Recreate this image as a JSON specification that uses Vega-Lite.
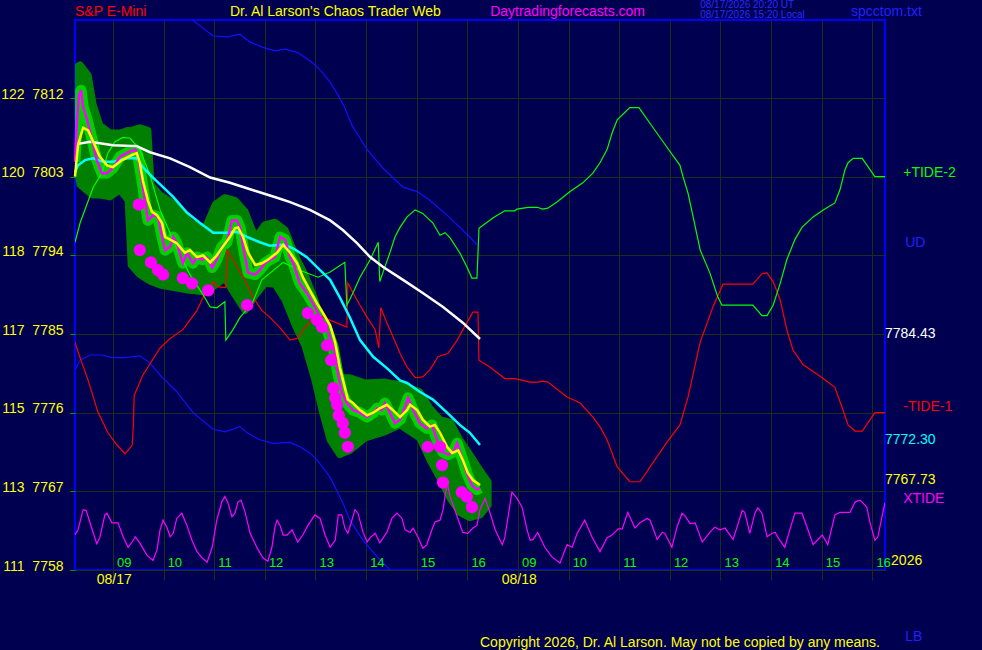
{
  "$schema": "https://vega.github.io/schema/vega-lite/v6.json",
  "width": 810,
  "height": 550,
  "autosize": {"type": "none"},
  "padding": {"left": 75, "top": 20, "right": 97, "bottom": 80},
  "background": "#000050",
  "config": {
    "view": {"stroke": "#0000ff", "strokeWidth": 2},
    "font": "Liberation Sans",
    "axis": {"gridColor": "#183018", "gridOpacity": 1, "domain": false}
  },
  "datasets": {
    "upper": [
      {"t":2.33,"v":7820.9},{"t":2.57,"v":7819.8},{"t":2.73,"v":7819.1},{"t":3.02,"v":7819.0},{"t":3.26,"v":7819.3},{"t":3.46,"v":7818.4},{"t":3.71,"v":7817.8},{"t":3.95,"v":7817.4},{"t":4.15,"v":7817.6},{"t":4.40,"v":7817.2},{"t":4.70,"v":7816.0},{"t":4.88,"v":7815.0},{"t":5.04,"v":7813.8},{"t":5.20,"v":7812.3},{"t":5.33,"v":7810.9},{"t":5.47,"v":7808.9},{"t":5.63,"v":7807.4},{"t":5.77,"v":7806.1},{"t":6.08,"v":7804.0},{"t":6.48,"v":7801.8},{"t":6.76,"v":7801.3},{"t":7.01,"v":7800.3},{"t":7.35,"v":7798.6},{"t":7.60,"v":7797.2},{"t":7.80,"v":7796.1},{"t":7.94,"v":7795.2}
    ],
    "lower": [
      {"t":0,"v":7780.9},{"t":0.10,"v":7782.0},{"t":0.30,"v":7782.6},{"t":0.53,"v":7782.6},{"t":0.73,"v":7782.3},{"t":0.99,"v":7782.3},{"t":1.28,"v":7782.5},{"t":1.48,"v":7781.7},{"t":1.68,"v":7780.3},{"t":2.01,"v":7778.4},{"t":2.33,"v":7776.0},{"t":2.73,"v":7774.1},{"t":2.96,"v":7773.8},{"t":3.26,"v":7774.4},{"t":3.40,"v":7773.7},{"t":3.65,"v":7772.9},{"t":3.91,"v":7772.5},{"t":4.25,"v":7772.6},{"t":4.44,"v":7772.1},{"t":4.64,"v":7771.4},{"t":4.78,"v":7770.6},{"t":5.04,"v":7768.6},{"t":5.29,"v":7765.7},{"t":5.43,"v":7763.7},{"t":5.69,"v":7761.4},{"t":5.97,"v":7759.5},{"t":6.22,"v":7758.0}
    ],
    "average": [
      {"t":0,"v":7806.7},{"t":0.30,"v":7807.0},{"t":0.75,"v":7806.6},{"t":1.22,"v":7806.5},{"t":1.48,"v":7805.8},{"t":1.88,"v":7805.1},{"t":2.27,"v":7804.1},{"t":2.67,"v":7802.9},{"t":3.06,"v":7802.3},{"t":3.60,"v":7801.3},{"t":3.99,"v":7800.6},{"t":4.25,"v":7800.1},{"t":4.64,"v":7799.2},{"t":5.04,"v":7798.0},{"t":5.29,"v":7796.9},{"t":5.57,"v":7795.4},{"t":5.83,"v":7793.8},{"t":6.08,"v":7792.7},{"t":6.48,"v":7791.2},{"t":6.87,"v":7789.7},{"t":7.27,"v":7788.1},{"t":7.66,"v":7786.3},{"t":8.00,"v":7784.43}
    ],
    "trend": [
      {"t":0,"v":7803.5},{"t":0.06,"v":7804.3},{"t":0.20,"v":7804.9},{"t":0.36,"v":7805.1},{"t":0.55,"v":7804.7},{"t":0.75,"v":7804.7},{"t":1.03,"v":7805.1},{"t":1.22,"v":7805.1},{"t":1.34,"v":7804.1},{"t":1.54,"v":7802.9},{"t":1.74,"v":7801.8},{"t":1.94,"v":7800.7},{"t":2.21,"v":7798.9},{"t":2.47,"v":7797.7},{"t":2.73,"v":7796.6},{"t":3.00,"v":7796.6},{"t":3.20,"v":7796.7},{"t":3.40,"v":7796.1},{"t":3.65,"v":7795.5},{"t":3.85,"v":7795.1},{"t":4.11,"v":7795.2},{"t":4.31,"v":7794.8},{"t":4.58,"v":7793.8},{"t":4.84,"v":7792.3},{"t":5.04,"v":7791.2},{"t":5.23,"v":7789.2},{"t":5.43,"v":7786.9},{"t":5.63,"v":7784.3},{"t":5.89,"v":7782.4},{"t":6.16,"v":7781.1},{"t":6.42,"v":7779.7},{"t":6.56,"v":7779.4},{"t":6.81,"v":7778.4},{"t":7.07,"v":7777.5},{"t":7.35,"v":7776.0},{"t":7.60,"v":7774.6},{"t":7.80,"v":7773.7},{"t":8.00,"v":7772.30}
    ],
    "smooth": [
      {"t":0,"v":7803.0},{"t":0.06,"v":7806.6},{"t":0.16,"v":7808.6},{"t":0.26,"v":7808.3},{"t":0.36,"v":7807.0},{"t":0.49,"v":7805.3},{"t":0.63,"v":7804.3},{"t":0.75,"v":7804.1},{"t":0.93,"v":7804.9},{"t":1.13,"v":7805.5},{"t":1.22,"v":7805.7},{"t":1.28,"v":7804.6},{"t":1.34,"v":7802.6},{"t":1.44,"v":7800.3},{"t":1.52,"v":7799.0},{"t":1.62,"v":7798.6},{"t":1.72,"v":7797.7},{"t":1.78,"v":7796.1},{"t":1.88,"v":7795.8},{"t":2.01,"v":7795.4},{"t":2.17,"v":7794.3},{"t":2.27,"v":7794.6},{"t":2.41,"v":7793.8},{"t":2.53,"v":7794.0},{"t":2.67,"v":7793.2},{"t":2.80,"v":7794.0},{"t":2.92,"v":7795.0},{"t":3.06,"v":7796.1},{"t":3.16,"v":7797.1},{"t":3.22,"v":7797.2},{"t":3.32,"v":7796.1},{"t":3.42,"v":7794.3},{"t":3.56,"v":7792.9},{"t":3.69,"v":7793.1},{"t":3.81,"v":7793.5},{"t":3.99,"v":7794.3},{"t":4.11,"v":7795.2},{"t":4.25,"v":7794.3},{"t":4.39,"v":7793.1},{"t":4.50,"v":7791.5},{"t":4.64,"v":7790.0},{"t":4.78,"v":7788.5},{"t":4.90,"v":7787.4},{"t":5.04,"v":7786.0},{"t":5.14,"v":7784.0},{"t":5.23,"v":7781.2},{"t":5.33,"v":7778.9},{"t":5.39,"v":7777.5},{"t":5.49,"v":7777.1},{"t":5.63,"v":7776.3},{"t":5.77,"v":7775.7},{"t":5.89,"v":7776.0},{"t":6.02,"v":7776.5},{"t":6.16,"v":7776.9},{"t":6.28,"v":7776.3},{"t":6.42,"v":7775.5},{"t":6.56,"v":7776.3},{"t":6.62,"v":7776.9},{"t":6.76,"v":7776.3},{"t":6.87,"v":7775.2},{"t":7.01,"v":7774.4},{"t":7.11,"v":7774.6},{"t":7.21,"v":7773.7},{"t":7.35,"v":7772.1},{"t":7.45,"v":7771.4},{"t":7.57,"v":7771.7},{"t":7.66,"v":7770.6},{"t":7.76,"v":7769.1},{"t":7.86,"v":7768.3},{"t":8.00,"v":7767.73}
    ],
    "price": [
      {"t":0,"v":7804.7},{"t":0.04,"v":7809.5},{"t":0.08,"v":7812.3},{"t":0.12,"v":7812.9},{"t":0.16,"v":7811.0},{"t":0.24,"v":7809.5},{"t":0.34,"v":7807.2},{"t":0.43,"v":7804.9},{"t":0.53,"v":7803.4},{"t":0.63,"v":7803.4},{"t":0.75,"v":7804.0},{"t":0.89,"v":7805.3},{"t":1.05,"v":7805.8},{"t":1.19,"v":7806.1},{"t":1.24,"v":7805.5},{"t":1.32,"v":7802.6},{"t":1.38,"v":7800.3},{"t":1.44,"v":7798.0},{"t":1.54,"v":7798.6},{"t":1.64,"v":7798.4},{"t":1.72,"v":7796.1},{"t":1.78,"v":7794.6},{"t":1.88,"v":7795.0},{"t":1.94,"v":7796.1},{"t":2.01,"v":7795.4},{"t":2.13,"v":7793.1},{"t":2.21,"v":7794.3},{"t":2.33,"v":7793.1},{"t":2.41,"v":7793.8},{"t":2.51,"v":7793.5},{"t":2.61,"v":7793.8},{"t":2.71,"v":7792.6},{"t":2.80,"v":7793.5},{"t":2.90,"v":7795.0},{"t":3.00,"v":7795.5},{"t":3.10,"v":7798.0},{"t":3.20,"v":7798.0},{"t":3.26,"v":7797.2},{"t":3.32,"v":7795.0},{"t":3.42,"v":7792.0},{"t":3.56,"v":7791.8},{"t":3.65,"v":7792.3},{"t":3.75,"v":7793.1},{"t":3.85,"v":7793.5},{"t":3.95,"v":7793.8},{"t":4.05,"v":7796.1},{"t":4.15,"v":7795.8},{"t":4.25,"v":7793.8},{"t":4.31,"v":7793.1},{"t":4.44,"v":7790.8},{"t":4.58,"v":7789.7},{"t":4.70,"v":7788.5},{"t":4.84,"v":7787.0},{"t":4.98,"v":7785.5},{"t":5.10,"v":7783.5},{"t":5.18,"v":7780.9},{"t":5.27,"v":7778.3},{"t":5.37,"v":7777.1},{"t":5.49,"v":7776.3},{"t":5.63,"v":7776.0},{"t":5.77,"v":7775.5},{"t":5.89,"v":7776.0},{"t":5.97,"v":7776.5},{"t":6.06,"v":7776.3},{"t":6.12,"v":7777.1},{"t":6.22,"v":7776.0},{"t":6.32,"v":7774.8},{"t":6.42,"v":7775.2},{"t":6.52,"v":7776.7},{"t":6.58,"v":7777.7},{"t":6.68,"v":7776.3},{"t":6.81,"v":7774.8},{"t":6.95,"v":7774.2},{"t":7.05,"v":7774.6},{"t":7.15,"v":7772.9},{"t":7.27,"v":7771.5},{"t":7.37,"v":7771.2},{"t":7.47,"v":7771.5},{"t":7.55,"v":7772.5},{"t":7.64,"v":7770.9},{"t":7.74,"v":7769.1},{"t":7.84,"v":7767.7},{"t":7.94,"v":7767.2},{"t":8.00,"v":7767.4}
    ],
    "glow": [
      {"t":0,"top":7815.4,"bot":7804.9},{"t":0.10,"top":7815.8,"bot":7802.1},{"t":0.26,"top":7814.6,"bot":7801.3},{"t":0.36,"top":7811.2,"bot":7800.9},{"t":0.49,"top":7808.9,"bot":7800.9},{"t":0.69,"top":7808.0,"bot":7800.7},{"t":0.89,"top":7808.0,"bot":7801.5},{"t":1.05,"top":7808.3,"bot":7800.3},{"t":1.11,"top":7808.3,"bot":7792.9},{"t":1.28,"top":7808.6,"bot":7791.8},{"t":1.44,"top":7808.3,"bot":7791.2},{"t":1.50,"top":7802.1,"bot":7791.0},{"t":1.68,"top":7800.9,"bot":7790.6},{"t":1.98,"top":7799.8,"bot":7790.3},{"t":2.27,"top":7797.8,"bot":7790.0},{"t":2.57,"top":7797.1,"bot":7789.8},{"t":2.77,"top":7799.8,"bot":7790.6},{"t":2.96,"top":7800.6,"bot":7791.4},{"t":3.16,"top":7800.3,"bot":7789.5},{"t":3.36,"top":7799.0,"bot":7787.7},{"t":3.56,"top":7796.0,"bot":7789.4},{"t":3.75,"top":7797.5,"bot":7790.8},{"t":3.95,"top":7797.8,"bot":7790.7},{"t":4.15,"top":7796.9,"bot":7788.9},{"t":4.35,"top":7794.0,"bot":7786.0},{"t":4.54,"top":7791.8,"bot":7783.7},{"t":4.74,"top":7788.9,"bot":7779.7},{"t":4.88,"top":7784.9,"bot":7776.3},{"t":5.04,"top":7780.9,"bot":7772.9},{"t":5.23,"top":7780.0,"bot":7771.2},{"t":5.43,"top":7780.0,"bot":7771.7},{"t":5.73,"top":7779.4,"bot":7773.1},{"t":6.12,"top":7779.5,"bot":7773.8},{"t":6.42,"top":7779.2,"bot":7774.6},{"t":6.81,"top":7778.4,"bot":7773.1},{"t":7.01,"top":7776.5,"bot":7770.6},{"t":7.21,"top":7775.2,"bot":7768.5},{"t":7.41,"top":7774.9,"bot":7766.2},{"t":7.60,"top":7772.9,"bot":7764.6},{"t":7.80,"top":7771.2,"bot":7764.0},{"t":8.00,"top":7769.4,"bot":7764.3},{"t":8.16,"top":7768.1,"bot":7765.4}
    ],
    "lows": [
      {"t":1.26,"v":7799.8},{"t":1.28,"v":7794.6},{"t":1.50,"v":7793.2},{"t":1.64,"v":7792.3},{"t":1.74,"v":7791.8},{"t":2.13,"v":7791.4},{"t":2.31,"v":7790.8},{"t":2.63,"v":7790.0},{"t":3.40,"v":7788.3},{"t":4.60,"v":7787.4},{"t":4.78,"v":7786.6},{"t":4.88,"v":7785.8},{"t":4.98,"v":7783.7},{"t":5.06,"v":7782.0},{"t":5.10,"v":7778.8},{"t":5.14,"v":7777.7},{"t":5.18,"v":7776.9},{"t":5.21,"v":7775.7},{"t":5.29,"v":7774.8},{"t":5.33,"v":7773.7},{"t":5.39,"v":7772.1},{"t":6.97,"v":7772.1},{"t":7.21,"v":7772.1},{"t":7.25,"v":7770.0},{"t":7.27,"v":7768.0},{"t":7.64,"v":7766.9},{"t":7.74,"v":7766.4},{"t":7.84,"v":7765.2}
    ],
    "tide1": [
      {"t":0,"v":7784.0},{"t":0.10,"v":7782.3},{"t":0.26,"v":7779.7},{"t":0.45,"v":7776.1},{"t":0.65,"v":7773.7},{"t":0.83,"v":7772.3},{"t":0.99,"v":7771.3},{"t":1.13,"v":7772.3},{"t":1.15,"v":7774.4},{"t":1.17,"v":7778.0},{"t":1.24,"v":7778.9},{"t":1.34,"v":7780.3},{"t":1.44,"v":7781.2},{"t":1.68,"v":7783.4},{"t":1.88,"v":7784.5},{"t":2.13,"v":7785.5},{"t":2.27,"v":7786.6},{"t":2.41,"v":7787.7},{"t":2.57,"v":7789.7},{"t":2.73,"v":7791.0},{"t":2.82,"v":7790.4},{"t":2.98,"v":7790.3},{"t":3.00,"v":7794.6},{"t":3.12,"v":7793.5},{"t":3.32,"v":7791.5},{"t":3.52,"v":7789.2},{"t":3.69,"v":7787.7},{"t":3.85,"v":7786.9},{"t":4.05,"v":7785.7},{"t":4.25,"v":7784.3},{"t":4.39,"v":7784.5},{"t":4.54,"v":7785.7},{"t":4.64,"v":7786.4},{"t":4.78,"v":7787.2},{"t":5.37,"v":7785.8},{"t":5.39,"v":7790.8},{"t":5.57,"v":7788.9},{"t":5.77,"v":7786.9},{"t":5.93,"v":7785.5},{"t":6.00,"v":7783.4},{"t":6.04,"v":7788.0},{"t":6.16,"v":7786.3},{"t":6.28,"v":7784.7},{"t":6.42,"v":7782.8},{"t":6.56,"v":7781.2},{"t":6.72,"v":7780.0},{"t":6.87,"v":7780.1},{"t":7.01,"v":7780.9},{"t":7.17,"v":7782.4},{"t":7.37,"v":7782.8},{"t":7.55,"v":7784.3},{"t":7.74,"v":7786.3},{"t":7.86,"v":7787.5},{"t":7.96,"v":7787.5},{"t":7.98,"v":7782.0},{"t":8.20,"v":7781.2},{"t":8.49,"v":7779.9},{"t":8.69,"v":7779.9},{"t":8.99,"v":7779.5},{"t":9.14,"v":7779.5},{"t":9.24,"v":7779.6},{"t":9.34,"v":7779.5},{"t":9.72,"v":7777.8},{"t":9.98,"v":7777.1},{"t":10.23,"v":7775.5},{"t":10.37,"v":7774.4},{"t":10.51,"v":7772.9},{"t":10.71,"v":7769.8},{"t":10.96,"v":7768.1},{"t":11.16,"v":7768.1},{"t":11.36,"v":7769.8},{"t":11.69,"v":7772.6},{"t":11.95,"v":7774.6},{"t":12.11,"v":7777.8},{"t":12.35,"v":7784.1},{"t":12.49,"v":7786.3},{"t":12.60,"v":7788.1},{"t":12.80,"v":7790.7},{"t":13.39,"v":7790.7},{"t":13.57,"v":7791.9},{"t":13.67,"v":7792.0},{"t":13.79,"v":7791.0},{"t":13.93,"v":7788.9},{"t":14.06,"v":7785.5},{"t":14.18,"v":7783.2},{"t":14.38,"v":7781.5},{"t":14.58,"v":7780.7},{"t":14.78,"v":7779.9},{"t":15.01,"v":7778.9},{"t":15.17,"v":7776.3},{"t":15.27,"v":7774.6},{"t":15.41,"v":7773.9},{"t":15.55,"v":7773.9},{"t":15.80,"v":7776.0},{"t":16.00,"v":7776.0}
    ],
    "tide2": [
      {"t":0,"v":7795.5},{"t":0.10,"v":7797.7},{"t":0.24,"v":7799.9},{"t":0.36,"v":7801.8},{"t":0.53,"v":7803.4},{"t":0.65,"v":7805.7},{"t":0.79,"v":7807.0},{"t":0.95,"v":7807.5},{"t":1.09,"v":7807.4},{"t":1.28,"v":7806.1},{"t":1.48,"v":7803.2},{"t":1.68,"v":7799.2},{"t":1.98,"v":7795.2},{"t":2.27,"v":7791.8},{"t":2.53,"v":7789.5},{"t":2.67,"v":7788.1},{"t":2.80,"v":7788.0},{"t":2.96,"v":7788.7},{"t":2.98,"v":7784.3},{"t":3.12,"v":7785.5},{"t":3.26,"v":7786.9},{"t":3.50,"v":7788.5},{"t":3.69,"v":7791.2},{"t":4.11,"v":7793.2},{"t":4.44,"v":7792.3},{"t":4.80,"v":7791.5},{"t":5.04,"v":7792.1},{"t":5.33,"v":7793.2},{"t":5.37,"v":7788.3},{"t":5.49,"v":7789.7},{"t":5.63,"v":7791.5},{"t":5.83,"v":7793.5},{"t":5.99,"v":7795.5},{"t":6.02,"v":7791.0},{"t":6.08,"v":7792.0},{"t":6.22,"v":7794.3},{"t":6.32,"v":7796.1},{"t":6.42,"v":7797.2},{"t":6.56,"v":7798.4},{"t":6.72,"v":7799.2},{"t":6.87,"v":7798.8},{"t":7.07,"v":7797.7},{"t":7.21,"v":7796.3},{"t":7.31,"v":7796.6},{"t":7.41,"v":7796.0},{"t":7.60,"v":7794.3},{"t":7.74,"v":7792.7},{"t":7.84,"v":7791.4},{"t":7.94,"v":7791.4},{"t":7.98,"v":7797.1},{"t":8.00,"v":7797.2},{"t":8.26,"v":7798.3},{"t":8.49,"v":7799.1},{"t":8.69,"v":7799.1},{"t":8.73,"v":7799.3},{"t":8.95,"v":7799.5},{"t":9.13,"v":7799.5},{"t":9.24,"v":7799.3},{"t":9.34,"v":7799.4},{"t":9.52,"v":7800.1},{"t":9.78,"v":7801.3},{"t":10.03,"v":7802.3},{"t":10.23,"v":7803.4},{"t":10.37,"v":7804.6},{"t":10.51,"v":7806.1},{"t":10.61,"v":7808.0},{"t":10.71,"v":7809.5},{"t":10.96,"v":7810.9},{"t":11.14,"v":7810.9},{"t":11.42,"v":7808.6},{"t":11.69,"v":7806.4},{"t":11.95,"v":7804.3},{"t":12.01,"v":7803.0},{"t":12.11,"v":7801.1},{"t":12.21,"v":7798.4},{"t":12.35,"v":7794.6},{"t":12.54,"v":7792.0},{"t":12.70,"v":7789.2},{"t":12.78,"v":7788.3},{"t":13.39,"v":7788.3},{"t":13.57,"v":7787.1},{"t":13.67,"v":7787.1},{"t":13.79,"v":7788.3},{"t":13.93,"v":7790.8},{"t":14.06,"v":7793.5},{"t":14.22,"v":7795.8},{"t":14.36,"v":7797.2},{"t":14.58,"v":7798.4},{"t":14.78,"v":7799.2},{"t":15.01,"v":7800.0},{"t":15.11,"v":7801.5},{"t":15.21,"v":7803.8},{"t":15.27,"v":7804.6},{"t":15.37,"v":7805.1},{"t":15.55,"v":7805.1},{"t":15.80,"v":7803.0},{"t":16.00,"v":7803.0}
    ],
    "xtide": [
      {"t":0,"v":7762.0},{"t":0.06,"v":7762.6},{"t":0.16,"v":7764.9},{"t":0.22,"v":7764.8},{"t":0.34,"v":7762.6},{"t":0.43,"v":7761.0},{"t":0.49,"v":7761.7},{"t":0.59,"v":7764.3},{"t":0.63,"v":7764.5},{"t":0.73,"v":7763.4},{"t":0.85,"v":7763.4},{"t":0.95,"v":7761.8},{"t":1.05,"v":7760.6},{"t":1.15,"v":7761.4},{"t":1.19,"v":7761.8},{"t":1.28,"v":7761.1},{"t":1.42,"v":7759.7},{"t":1.54,"v":7759.1},{"t":1.62,"v":7760.3},{"t":1.68,"v":7762.6},{"t":1.74,"v":7763.7},{"t":1.82,"v":7762.8},{"t":1.88,"v":7761.8},{"t":1.94,"v":7762.2},{"t":2.01,"v":7763.9},{"t":2.11,"v":7764.5},{"t":2.21,"v":7763.1},{"t":2.31,"v":7761.4},{"t":2.41,"v":7760.1},{"t":2.51,"v":7759.4},{"t":2.61,"v":7758.9},{"t":2.71,"v":7760.6},{"t":2.80,"v":7763.7},{"t":2.90,"v":7765.8},{"t":2.96,"v":7766.4},{"t":3.02,"v":7765.7},{"t":3.10,"v":7764.1},{"t":3.16,"v":7764.5},{"t":3.22,"v":7765.8},{"t":3.28,"v":7766.0},{"t":3.36,"v":7764.6},{"t":3.46,"v":7762.2},{"t":3.60,"v":7760.5},{"t":3.71,"v":7759.4},{"t":3.81,"v":7759.0},{"t":3.89,"v":7760.6},{"t":3.95,"v":7762.9},{"t":3.99,"v":7763.7},{"t":4.05,"v":7763.1},{"t":4.11,"v":7762.0},{"t":4.19,"v":7762.0},{"t":4.29,"v":7762.6},{"t":4.35,"v":7761.8},{"t":4.40,"v":7761.2},{"t":4.50,"v":7762.0},{"t":4.60,"v":7763.1},{"t":4.74,"v":7764.3},{"t":4.84,"v":7763.9},{"t":4.94,"v":7762.0},{"t":5.04,"v":7760.6},{"t":5.14,"v":7761.4},{"t":5.20,"v":7764.3},{"t":5.27,"v":7764.3},{"t":5.33,"v":7762.8},{"t":5.39,"v":7762.2},{"t":5.47,"v":7763.7},{"t":5.53,"v":7764.9},{"t":5.59,"v":7764.5},{"t":5.69,"v":7762.3},{"t":5.77,"v":7761.2},{"t":5.83,"v":7761.7},{"t":5.93,"v":7762.2},{"t":6.02,"v":7761.1},{"t":6.16,"v":7762.3},{"t":6.26,"v":7763.9},{"t":6.36,"v":7764.5},{"t":6.46,"v":7763.9},{"t":6.52,"v":7762.6},{"t":6.62,"v":7762.3},{"t":6.68,"v":7762.8},{"t":6.78,"v":7761.7},{"t":6.87,"v":7760.5},{"t":6.95,"v":7760.9},{"t":7.05,"v":7762.6},{"t":7.11,"v":7763.5},{"t":7.21,"v":7763.7},{"t":7.27,"v":7764.9},{"t":7.35,"v":7768.0},{"t":7.41,"v":7766.4},{"t":7.55,"v":7764.1},{"t":7.66,"v":7762.3},{"t":7.76,"v":7762.2},{"t":7.86,"v":7762.8},{"t":7.94,"v":7763.1},{"t":8.00,"v":7764.9},{"t":8.10,"v":7766.2},{"t":8.20,"v":7764.5},{"t":8.30,"v":7762.6},{"t":8.44,"v":7760.9},{"t":8.49,"v":7761.7},{"t":8.63,"v":7766.9},{"t":8.73,"v":7766.2},{"t":8.83,"v":7765.2},{"t":8.93,"v":7762.6},{"t":8.99,"v":7761.4},{"t":9.05,"v":7761.5},{"t":9.14,"v":7762.3},{"t":9.28,"v":7760.6},{"t":9.42,"v":7759.5},{"t":9.58,"v":7758.8},{"t":9.72,"v":7760.9},{"t":9.82,"v":7760.6},{"t":9.92,"v":7762.2},{"t":10.07,"v":7763.7},{"t":10.21,"v":7761.8},{"t":10.37,"v":7760.1},{"t":10.51,"v":7761.7},{"t":10.61,"v":7762.0},{"t":10.73,"v":7762.7},{"t":10.81,"v":7762.7},{"t":10.92,"v":7764.6},{"t":11.06,"v":7762.8},{"t":11.16,"v":7763.4},{"t":11.30,"v":7763.9},{"t":11.36,"v":7763.7},{"t":11.50,"v":7761.5},{"t":11.60,"v":7762.3},{"t":11.65,"v":7762.2},{"t":11.79,"v":7760.6},{"t":11.89,"v":7762.9},{"t":11.99,"v":7764.5},{"t":12.05,"v":7764.2},{"t":12.15,"v":7763.3},{"t":12.25,"v":7763.4},{"t":12.39,"v":7761.2},{"t":12.54,"v":7762.3},{"t":12.64,"v":7762.9},{"t":12.74,"v":7762.6},{"t":12.84,"v":7762.8},{"t":12.90,"v":7762.3},{"t":13.00,"v":7761.5},{"t":13.18,"v":7764.8},{"t":13.23,"v":7764.6},{"t":13.33,"v":7762.2},{"t":13.43,"v":7764.5},{"t":13.49,"v":7765.1},{"t":13.57,"v":7764.5},{"t":13.67,"v":7761.8},{"t":13.77,"v":7762.2},{"t":13.83,"v":7762.3},{"t":13.89,"v":7761.7},{"t":14.02,"v":7760.6},{"t":14.12,"v":7762.6},{"t":14.22,"v":7764.5},{"t":14.36,"v":7764.5},{"t":14.46,"v":7762.9},{"t":14.58,"v":7760.9},{"t":14.76,"v":7762.0},{"t":14.87,"v":7760.9},{"t":15.01,"v":7764.3},{"t":15.11,"v":7764.6},{"t":15.31,"v":7764.6},{"t":15.41,"v":7765.8},{"t":15.51,"v":7766.0},{"t":15.64,"v":7765.2},{"t":15.70,"v":7763.5},{"t":15.80,"v":7761.4},{"t":15.86,"v":7761.8},{"t":15.94,"v":7764.1},{"t":16.00,"v":7765.7}
    ],
    "clock": [
      {"t":0.83,"v":7758.75,"label":"09"},{"t":1.83,"v":7758.75,"label":"10"},{"t":2.83,"v":7758.75,"label":"11"},{"t":3.83,"v":7758.75,"label":"12"},{"t":4.83,"v":7758.75,"label":"13"},{"t":5.83,"v":7758.75,"label":"14"},{"t":6.83,"v":7758.75,"label":"15"},{"t":7.83,"v":7758.75,"label":"16"},
      {"t":8.83,"v":7758.75,"label":"09"},{"t":9.83,"v":7758.75,"label":"10"},{"t":10.83,"v":7758.75,"label":"11"},{"t":11.83,"v":7758.75,"label":"12"},{"t":12.83,"v":7758.75,"label":"13"},{"t":13.83,"v":7758.75,"label":"14"},{"t":14.83,"v":7758.75,"label":"15"},{"t":15.83,"v":7758.75,"label":"16"}
    ],
    "notes": [
      {"label":"S&P E-Mini","t":0,"v":7821.85,"kind":"instrument"},
      {"label":"Dr. Al Larson's Chaos Trader Web","t":3.06,"v":7821.85,"kind":"author"},
      {"label":"Daytradingforecasts.com","t":8.2,"v":7821.85,"kind":"site"},
      {"label":"spcctom.txt","t":15.33,"v":7821.85,"kind":"file"},
      {"label":"+TIDE-2","t":16.36,"v":7803.4,"kind":"tide2"},
      {"label":"UD","t":16.4,"v":7795.4,"kind":"band"},
      {"label":"7784.43","t":16.0,"v":7785.0,"kind":"average"},
      {"label":"-TIDE-1","t":16.36,"v":7776.7,"kind":"tide1"},
      {"label":"7772.30","t":16.0,"v":7772.9,"kind":"trend"},
      {"label":"7767.73","t":16.0,"v":7768.3,"kind":"smooth"},
      {"label":"XTIDE","t":16.36,"v":7766.1,"kind":"xtide"},
      {"label":"2026","t":16.12,"v":7759.0,"kind":"year"},
      {"label":"LB","t":16.4,"v":7750.3,"kind":"band"},
      {"label":"08/17","t":0.43,"v":7756.9,"kind":"date"},
      {"label":"08/18","t":8.43,"v":7756.9,"kind":"date"},
      {"label":"Copyright 2026, Dr. Al Larson. May not be copied by any means.","t":8.0,"v":7749.6,"kind":"copyright"}
    ],
    "stamps": [
      {"label":"08/17/2026 20:20 UT","t":12.35,"v":7822.6},
      {"label":"08/17/2026 15:20 Local","t":12.35,"v":7821.45}
    ]
  },
  "encoding": {
    "x": {
      "field": "t", "type": "quantitative",
      "scale": {"domain": [0, 16], "nice": false, "zero": false},
      "axis": {
        "title": null, "labels": false, "grid": true, "tickSize": 10, "tickColor": "#183018",
        "values": [0.75,1.75,2.75,3.75,4.75,5.75,6.75,7.75,8.75,9.75,10.75,11.75,12.75,13.75,14.75,15.75]
      }
    },
    "y": {
      "field": "v", "type": "quantitative",
      "scale": {"domain": [7758, 7820.93], "nice": false, "zero": false},
      "axis": {
        "title": null, "grid": true, "tickSize": 5, "tickColor": "#00a000",
        "values": [7758, 7767, 7776, 7785, 7794, 7803, 7812],
        "labelExpr": "round(111 + (datum.value - 7758) * 11 / 54) + '\u00a0\u00a0' + datum.value",
        "labelColor": "#ffff00", "labelFontSize": 14, "labelPadding": 7, "labelOffset": -4
      }
    }
  },
  "layer": [
    {
      "data": {"name": "glow"},
      "mark": {"type": "area", "color": "#008000", "stroke": "#008000", "strokeWidth": 7, "strokeJoin": "round", "clip": true},
      "encoding": {"y": {"field": "top", "type": "quantitative"}, "y2": {"field": "bot"}}
    },
    {
      "data": {"name": "price"},
      "mark": {"type": "line", "color": "#00e000", "strokeWidth": 11, "strokeJoin": "round", "opacity": 0.85, "clip": true}
    },
    {
      "data": {"name": "upper"},
      "mark": {"type": "line", "color": "#1010ff", "strokeWidth": 1.2, "clip": true}
    },
    {
      "data": {"name": "lower"},
      "mark": {"type": "line", "color": "#1010ff", "strokeWidth": 1.2, "clip": true}
    },
    {
      "data": {"name": "tide1"},
      "mark": {"type": "line", "color": "#ff0000", "strokeWidth": 1.2, "clip": true}
    },
    {
      "data": {"name": "tide2"},
      "mark": {"type": "line", "color": "#00ff00", "strokeWidth": 1.2, "clip": true}
    },
    {
      "data": {"name": "xtide"},
      "mark": {"type": "line", "color": "#ff00ff", "strokeWidth": 1.2, "clip": true}
    },
    {
      "data": {"name": "average"},
      "mark": {"type": "line", "color": "#ffffff", "strokeWidth": 2.5}
    },
    {
      "data": {"name": "trend"},
      "mark": {"type": "line", "color": "#00ffff", "strokeWidth": 2.5}
    },
    {
      "data": {"name": "price"},
      "mark": {"type": "line", "color": "#ff00ff", "strokeWidth": 2.5}
    },
    {
      "data": {"name": "smooth"},
      "mark": {"type": "line", "color": "#ffff00", "strokeWidth": 2.5}
    },
    {
      "data": {"name": "lows"},
      "mark": {"type": "point", "filled": true, "shape": "circle", "size": 150, "color": "#ff00ff", "opacity": 1}
    },
    {
      "data": {"values": [{}]},
      "mark": {"type": "rule", "color": "#0000ff", "strokeWidth": 2},
      "encoding": {"x": {"datum": 8}, "y": {"datum": 7758}, "y2": {"datum": 7820.93}}
    },
    {
      "data": {"name": "clock"},
      "mark": {"type": "text", "align": "left", "baseline": "middle", "fontSize": 13, "color": "#00ff00"},
      "encoding": {"text": {"field": "label"}}
    },
    {
      "data": {"name": "notes"},
      "mark": {"type": "text", "align": "left", "baseline": "middle", "fontSize": 14},
      "encoding": {
        "text": {"field": "label"},
        "color": {
          "field": "kind", "type": "nominal", "legend": null,
          "scale": {
            "domain": ["instrument","author","site","file","tide2","band","average","tide1","trend","smooth","xtide","year","date","copyright"],
            "range": ["#ff0000","#ffff00","#ff00ff","#2020ff","#00ff00","#2020ff","#ffffff","#ff0000","#00ffff","#ffff00","#ff00ff","#ffff00","#ffff00","#ffff00"]
          }
        }
      }
    },
    {
      "data": {"name": "stamps"},
      "mark": {"type": "text", "align": "left", "baseline": "middle", "fontSize": 10, "color": "#2a2aff"},
      "encoding": {"text": {"field": "label"}}
    }
  ]
}
